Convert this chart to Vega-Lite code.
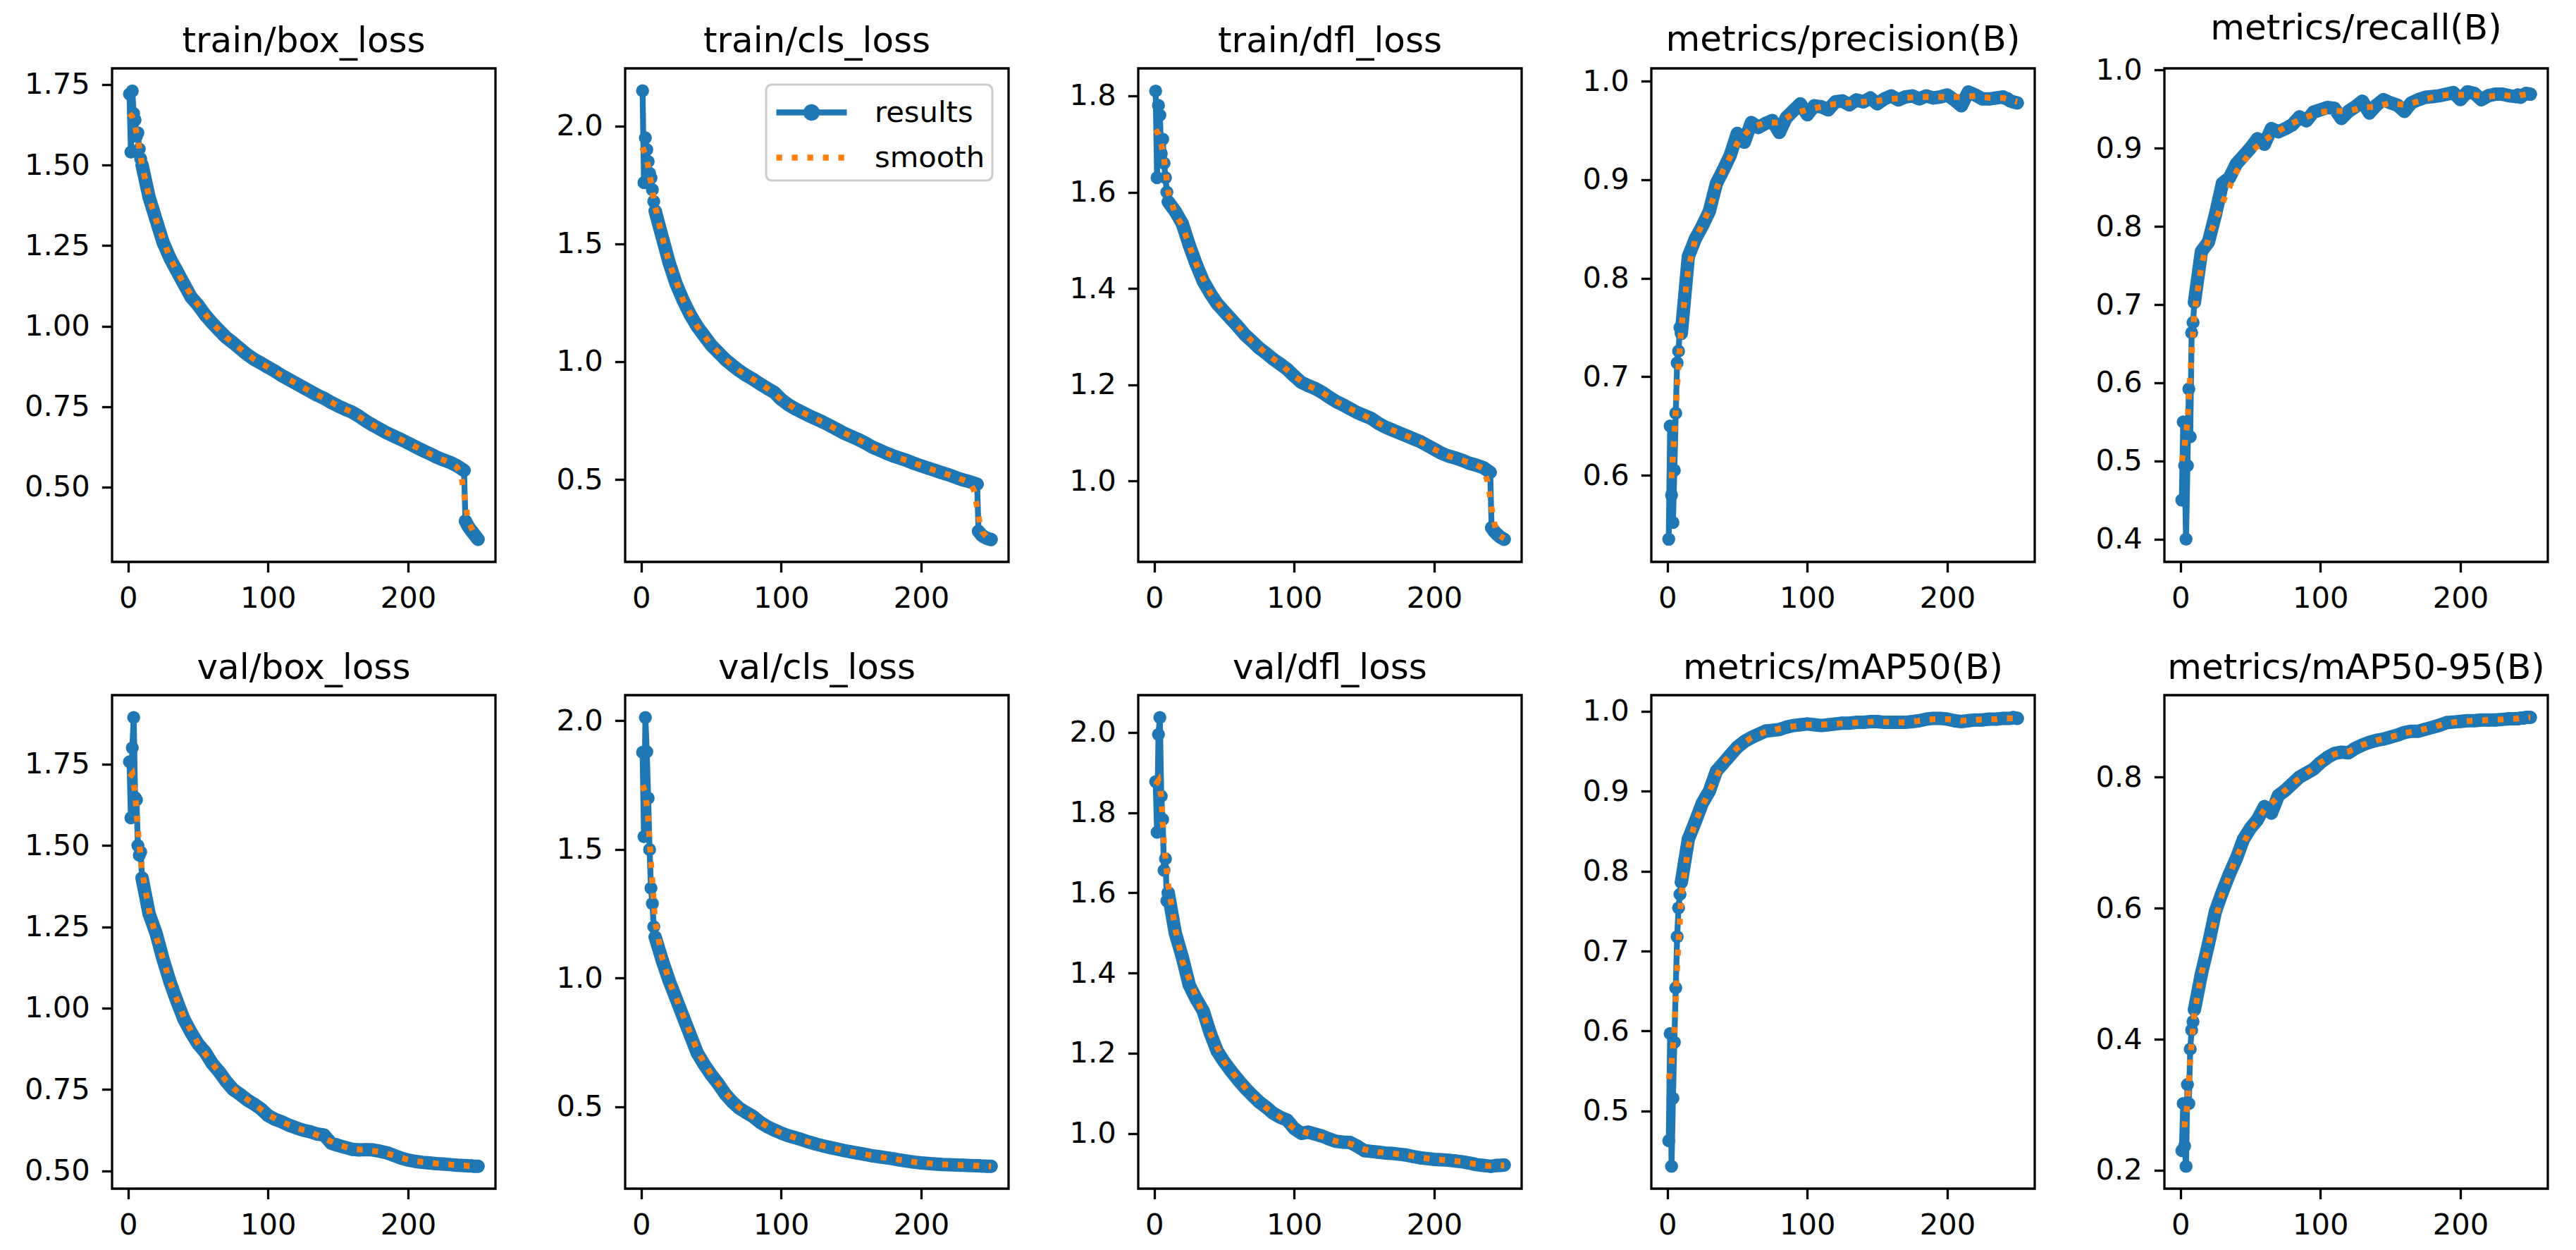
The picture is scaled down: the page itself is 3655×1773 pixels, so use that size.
{
"$schema":"https://vega.github.io/schema/vega-lite/v6.json",
"background":"white",
"padding":{"left":32,"top":14,"right":0,"bottom":0},
"columns":5,
"bounds":"flush",
"spacing":{"row":189,"column":184},
"resolve":{"scale":{"color":"independent"},"legend":{"color":"independent"}},
"config":{
 "view":{"stroke":"black","strokeWidth":3.3},
 "axis":{"domain":false,"grid":false,"ticks":true,"tickSize":14.6,"tickWidth":3.3,"tickColor":"black","labelFont":"DejaVu Sans","labelFontSize":41.7,"labelColor":"black","labelPadding":17,"labelFlush":false,"labelOverlap":false,"labelBound":false},
 "title":{"font":"DejaVu Sans","fontSize":50,"fontWeight":"normal","color":"black","anchor":"middle","frame":"group","offset":13,"baseline":"alphabetic"},
 "legend":{"labelFont":"DejaVu Sans","labelFontSize":41.7,"labelColor":"black"}
},
"datasets":{
"results":[
{"e":1,"tb":1.72,"tc":2.15,"td":1.81,"pr":0.535,"re":0.45,"vb":1.757,"vc":1.878,"vd":1.877,"m50":0.463,"m95":0.23},
{"e":2,"tb":1.54,"tc":1.76,"td":1.63,"pr":0.65,"re":0.55,"vb":1.585,"vc":1.55,"vd":1.751,"m50":0.597,"m95":0.302},
{"e":3,"tb":1.73,"tc":1.95,"td":1.78,"pr":0.58,"re":0.494,"vb":1.8,"vc":2.013,"vd":1.995,"m50":0.431,"m95":0.237},
{"e":4,"tb":1.66,"tc":1.9,"td":1.76,"pr":0.552,"re":0.4,"vb":1.893,"vc":1.88,"vd":2.037,"m50":0.516,"m95":0.206},
{"e":5,"tb":1.64,"tc":1.85,"td":1.68,"pr":0.605,"re":0.494,"vb":1.647,"vc":1.7,"vd":1.841,"m50":0.586,"m95":0.331},
{"e":6,"tb":1.59,"tc":1.8,"td":1.71,"pr":0.663,"re":0.592,"vb":1.64,"vc":1.5,"vd":1.783,"m50":0.654,"m95":0.302},
{"e":7,"tb":1.6,"tc":1.78,"td":1.66,"pr":0.714,"re":0.531,"vb":1.5,"vc":1.35,"vd":1.656,"m50":0.718,"m95":0.385},
{"e":8,"tb":1.55,"tc":1.73,"td":1.63,"pr":0.726,"re":0.664,"vb":1.47,"vc":1.29,"vd":1.685,"m50":0.754,"m95":0.414},
{"e":9,"tb":1.52,"tc":1.68,"td":1.6,"pr":0.75,"re":0.677,"vb":1.48,"vc":1.2,"vd":1.58,"m50":0.771,"m95":0.427},
{"e":10,"tb":1.5,"tc":1.64,"td":1.58,"pr":0.744,"re":0.703,"vb":1.4,"vc":1.16,"vd":1.6,"m50":0.786,"m95":0.445},
{"e":15,"tb":1.4,"tc":1.53,"td":1.56,"pr":0.822,"re":0.768,"vb":1.29,"vc":1.07,"vd":1.5,"m50":0.84,"m95":0.5},
{"e":20,"tb":1.33,"tc":1.42,"td":1.535,"pr":0.84,"re":0.78,"vb":1.23,"vc":0.99,"vd":1.44,"m50":0.862,"m95":0.545},
{"e":25,"tb":1.26,"tc":1.33,"td":1.49,"pr":0.853,"re":0.815,"vb":1.15,"vc":0.92,"vd":1.37,"m50":0.885,"m95":0.595},
{"e":30,"tb":1.21,"tc":1.26,"td":1.45,"pr":0.868,"re":0.855,"vb":1.08,"vc":0.85,"vd":1.335,"m50":0.9,"m95":0.625},
{"e":35,"tb":1.17,"tc":1.2,"td":1.415,"pr":0.896,"re":0.862,"vb":1.02,"vc":0.78,"vd":1.305,"m50":0.925,"m95":0.652},
{"e":40,"tb":1.13,"tc":1.15,"td":1.39,"pr":0.91,"re":0.88,"vb":0.965,"vc":0.71,"vd":1.25,"m50":0.935,"m95":0.676},
{"e":45,"tb":1.09,"tc":1.11,"td":1.368,"pr":0.925,"re":0.89,"vb":0.925,"vc":0.665,"vd":1.205,"m50":0.945,"m95":0.705},
{"e":50,"tb":1.065,"tc":1.07,"td":1.352,"pr":0.947,"re":0.9,"vb":0.89,"vc":0.625,"vd":1.178,"m50":0.955,"m95":0.722},
{"e":55,"tb":1.035,"tc":1.04,"td":1.336,"pr":0.938,"re":0.912,"vb":0.865,"vc":0.59,"vd":1.155,"m50":0.962,"m95":0.735},
{"e":60,"tb":1.01,"tc":1.01,"td":1.32,"pr":0.958,"re":0.905,"vb":0.83,"vc":0.55,"vd":1.133,"m50":0.967,"m95":0.755},
{"e":65,"tb":0.987,"tc":0.985,"td":1.303,"pr":0.953,"re":0.925,"vb":0.805,"vc":0.52,"vd":1.113,"m50":0.971,"m95":0.745},
{"e":70,"tb":0.965,"tc":0.962,"td":1.29,"pr":0.957,"re":0.921,"vb":0.775,"vc":0.495,"vd":1.095,"m50":0.975,"m95":0.772},
{"e":75,"tb":0.948,"tc":0.942,"td":1.276,"pr":0.96,"re":0.925,"vb":0.75,"vc":0.478,"vd":1.078,"m50":0.976,"m95":0.78},
{"e":80,"tb":0.93,"tc":0.925,"td":1.265,"pr":0.948,"re":0.93,"vb":0.735,"vc":0.462,"vd":1.065,"m50":0.977,"m95":0.79},
{"e":85,"tb":0.912,"tc":0.905,"td":1.253,"pr":0.963,"re":0.94,"vb":0.718,"vc":0.44,"vd":1.05,"m50":0.98,"m95":0.8},
{"e":90,"tb":0.897,"tc":0.887,"td":1.243,"pr":0.97,"re":0.935,"vb":0.705,"vc":0.423,"vd":1.04,"m50":0.982,"m95":0.806},
{"e":95,"tb":0.885,"tc":0.87,"td":1.232,"pr":0.977,"re":0.946,"vb":0.69,"vc":0.41,"vd":1.033,"m50":0.983,"m95":0.812},
{"e":100,"tb":0.872,"tc":0.84,"td":1.218,"pr":0.966,"re":0.949,"vb":0.67,"vc":0.398,"vd":1.012,"m50":0.984,"m95":0.822},
{"e":105,"tb":0.86,"tc":0.818,"td":1.205,"pr":0.975,"re":0.952,"vb":0.658,"vc":0.388,"vd":1.0,"m50":0.983,"m95":0.83},
{"e":110,"tb":0.846,"tc":0.8,"td":1.198,"pr":0.974,"re":0.951,"vb":0.65,"vc":0.38,"vd":1.003,"m50":0.982,"m95":0.836},
{"e":115,"tb":0.834,"tc":0.785,"td":1.192,"pr":0.971,"re":0.938,"vb":0.64,"vc":0.372,"vd":0.998,"m50":0.983,"m95":0.838},
{"e":120,"tb":0.822,"tc":0.77,"td":1.184,"pr":0.979,"re":0.947,"vb":0.632,"vc":0.363,"vd":0.993,"m50":0.984,"m95":0.837},
{"e":125,"tb":0.81,"tc":0.757,"td":1.174,"pr":0.98,"re":0.953,"vb":0.625,"vc":0.355,"vd":0.986,"m50":0.985,"m95":0.844},
{"e":130,"tb":0.798,"tc":0.743,"td":1.165,"pr":0.976,"re":0.96,"vb":0.62,"vc":0.348,"vd":0.98,"m50":0.985,"m95":0.849},
{"e":135,"tb":0.786,"tc":0.728,"td":1.158,"pr":0.981,"re":0.945,"vb":0.613,"vc":0.342,"vd":0.978,"m50":0.986,"m95":0.853},
{"e":140,"tb":0.776,"tc":0.712,"td":1.15,"pr":0.979,"re":0.955,"vb":0.61,"vc":0.336,"vd":0.977,"m50":0.986,"m95":0.856},
{"e":145,"tb":0.763,"tc":0.696,"td":1.142,"pr":0.983,"re":0.962,"vb":0.585,"vc":0.33,"vd":0.968,"m50":0.987,"m95":0.858},
{"e":150,"tb":0.752,"tc":0.683,"td":1.136,"pr":0.977,"re":0.958,"vb":0.578,"vc":0.325,"vd":0.957,"m50":0.987,"m95":0.861},
{"e":155,"tb":0.742,"tc":0.67,"td":1.13,"pr":0.982,"re":0.955,"vb":0.572,"vc":0.32,"vd":0.955,"m50":0.986,"m95":0.864},
{"e":160,"tb":0.733,"tc":0.655,"td":1.12,"pr":0.985,"re":0.947,"vb":0.566,"vc":0.315,"vd":0.953,"m50":0.986,"m95":0.868},
{"e":165,"tb":0.72,"tc":0.638,"td":1.112,"pr":0.981,"re":0.958,"vb":0.564,"vc":0.31,"vd":0.951,"m50":0.986,"m95":0.87},
{"e":170,"tb":0.705,"tc":0.625,"td":1.106,"pr":0.984,"re":0.962,"vb":0.565,"vc":0.306,"vd":0.95,"m50":0.986,"m95":0.87},
{"e":175,"tb":0.692,"tc":0.612,"td":1.1,"pr":0.985,"re":0.965,"vb":0.564,"vc":0.302,"vd":0.948,"m50":0.987,"m95":0.873},
{"e":180,"tb":0.68,"tc":0.6,"td":1.094,"pr":0.982,"re":0.966,"vb":0.56,"vc":0.298,"vd":0.946,"m50":0.988,"m95":0.876},
{"e":185,"tb":0.668,"tc":0.59,"td":1.088,"pr":0.985,"re":0.967,"vb":0.555,"vc":0.293,"vd":0.942,"m50":0.99,"m95":0.879},
{"e":190,"tb":0.658,"tc":0.58,"td":1.082,"pr":0.983,"re":0.969,"vb":0.547,"vc":0.289,"vd":0.939,"m50":0.991,"m95":0.883},
{"e":195,"tb":0.648,"tc":0.568,"td":1.074,"pr":0.984,"re":0.971,"vb":0.539,"vc":0.285,"vd":0.937,"m50":0.991,"m95":0.884},
{"e":200,"tb":0.637,"tc":0.558,"td":1.066,"pr":0.986,"re":0.962,"vb":0.533,"vc":0.282,"vd":0.935,"m50":0.99,"m95":0.885},
{"e":205,"tb":0.626,"tc":0.548,"td":1.058,"pr":0.981,"re":0.972,"vb":0.529,"vc":0.28,"vd":0.934,"m50":0.988,"m95":0.886},
{"e":210,"tb":0.615,"tc":0.538,"td":1.052,"pr":0.975,"re":0.97,"vb":0.526,"vc":0.278,"vd":0.933,"m50":0.987,"m95":0.886},
{"e":215,"tb":0.605,"tc":0.528,"td":1.048,"pr":0.989,"re":0.962,"vb":0.524,"vc":0.276,"vd":0.931,"m50":0.988,"m95":0.887},
{"e":220,"tb":0.594,"tc":0.519,"td":1.043,"pr":0.986,"re":0.967,"vb":0.522,"vc":0.275,"vd":0.929,"m50":0.989,"m95":0.887},
{"e":225,"tb":0.585,"tc":0.508,"td":1.037,"pr":0.982,"re":0.969,"vb":0.521,"vc":0.274,"vd":0.926,"m50":0.989,"m95":0.887},
{"e":230,"tb":0.577,"tc":0.498,"td":1.033,"pr":0.982,"re":0.969,"vb":0.519,"vc":0.273,"vd":0.922,"m50":0.99,"m95":0.888},
{"e":235,"tb":0.566,"tc":0.49,"td":1.028,"pr":0.983,"re":0.967,"vb":0.517,"vc":0.272,"vd":0.92,"m50":0.99,"m95":0.889},
{"e":240,"tb":0.552,"tc":0.48,"td":1.018,"pr":0.984,"re":0.966,"vb":0.516,"vc":0.271,"vd":0.918,"m50":0.991,"m95":0.889},
{"e":241,"tb":0.395,"tc":0.28,"td":0.903,"pr":0.983,"re":0.968,"vb":0.516,"vc":0.271,"vd":0.918,"m50":0.991,"m95":0.889},
{"e":243,"tb":0.378,"tc":0.265,"td":0.895,"pr":0.982,"re":0.965,"vb":0.515,"vc":0.27,"vd":0.919,"m50":0.991,"m95":0.89},
{"e":245,"tb":0.366,"tc":0.256,"td":0.889,"pr":0.98,"re":0.968,"vb":0.515,"vc":0.27,"vd":0.92,"m50":0.991,"m95":0.89},
{"e":247,"tb":0.355,"tc":0.25,"td":0.884,"pr":0.979,"re":0.97,"vb":0.514,"vc":0.269,"vd":0.92,"m50":0.992,"m95":0.891},
{"e":250,"tb":0.338,"tc":0.245,"td":0.879,"pr":0.978,"re":0.969,"vb":0.514,"vc":0.269,"vd":0.921,"m50":0.991,"m95":0.891}
],
"smooth":[
{"e":1,"tb":1.66,"tc":1.91,"td":1.73,"pr":0.6,"re":0.5,"vb":1.71,"vc":1.75,"vd":1.87,"m50":0.54,"m95":0.27},
{"e":3,"tb":1.65,"tc":1.88,"td":1.72,"pr":0.6,"re":0.52,"vb":1.72,"vc":1.72,"vd":1.88,"m50":0.56,"m95":0.27},
{"e":5,"tb":1.62,"tc":1.83,"td":1.7,"pr":0.64,"re":0.55,"vb":1.66,"vc":1.62,"vd":1.84,"m50":0.6,"m95":0.3},
{"e":7,"tb":1.58,"tc":1.76,"td":1.67,"pr":0.69,"re":0.61,"vb":1.55,"vc":1.45,"vd":1.72,"m50":0.68,"m95":0.37},
{"e":10,"tb":1.5,"tc":1.66,"td":1.6,"pr":0.75,"re":0.69,"vb":1.42,"vc":1.22,"vd":1.62,"m50":0.77,"m95":0.44},
{"e":15,"tb":1.4,"tc":1.53,"td":1.555,"pr":0.81,"re":0.75,"vb":1.3,"vc":1.08,"vd":1.51,"m50":0.83,"m95":0.5},
{"e":20,"tb":1.33,"tc":1.42,"td":1.53,"pr":0.84,"re":0.785,"vb":1.22,"vc":0.99,"vd":1.43,"m50":0.862,"m95":0.545},
{"e":30,"tb":1.21,"tc":1.26,"td":1.45,"pr":0.87,"re":0.83,"vb":1.08,"vc":0.855,"vd":1.34,"m50":0.9,"m95":0.622},
{"e":40,"tb":1.13,"tc":1.15,"td":1.39,"pr":0.91,"re":0.87,"vb":0.97,"vc":0.72,"vd":1.25,"m50":0.936,"m95":0.678},
{"e":50,"tb":1.065,"tc":1.07,"td":1.352,"pr":0.937,"re":0.895,"vb":0.89,"vc":0.625,"vd":1.178,"m50":0.954,"m95":0.72},
{"e":60,"tb":1.01,"tc":1.01,"td":1.32,"pr":0.953,"re":0.91,"vb":0.83,"vc":0.555,"vd":1.133,"m50":0.967,"m95":0.75},
{"e":70,"tb":0.965,"tc":0.962,"td":1.29,"pr":0.958,"re":0.922,"vb":0.777,"vc":0.497,"vd":1.095,"m50":0.974,"m95":0.77},
{"e":80,"tb":0.93,"tc":0.925,"td":1.265,"pr":0.958,"re":0.932,"vb":0.735,"vc":0.46,"vd":1.063,"m50":0.978,"m95":0.79},
{"e":90,"tb":0.897,"tc":0.887,"td":1.243,"pr":0.967,"re":0.94,"vb":0.705,"vc":0.424,"vd":1.04,"m50":0.981,"m95":0.806},
{"e":100,"tb":0.872,"tc":0.84,"td":1.218,"pr":0.971,"re":0.946,"vb":0.672,"vc":0.398,"vd":1.012,"m50":0.983,"m95":0.822},
{"e":110,"tb":0.846,"tc":0.8,"td":1.198,"pr":0.974,"re":0.948,"vb":0.65,"vc":0.38,"vd":1.0,"m50":0.983,"m95":0.835},
{"e":120,"tb":0.822,"tc":0.77,"td":1.184,"pr":0.977,"re":0.947,"vb":0.632,"vc":0.363,"vd":0.992,"m50":0.984,"m95":0.839},
{"e":130,"tb":0.798,"tc":0.743,"td":1.165,"pr":0.978,"re":0.952,"vb":0.619,"vc":0.348,"vd":0.98,"m50":0.985,"m95":0.849},
{"e":140,"tb":0.776,"tc":0.712,"td":1.15,"pr":0.979,"re":0.953,"vb":0.6,"vc":0.336,"vd":0.974,"m50":0.986,"m95":0.856},
{"e":150,"tb":0.752,"tc":0.683,"td":1.136,"pr":0.98,"re":0.958,"vb":0.58,"vc":0.325,"vd":0.96,"m50":0.987,"m95":0.861},
{"e":160,"tb":0.733,"tc":0.655,"td":1.12,"pr":0.982,"re":0.955,"vb":0.567,"vc":0.315,"vd":0.953,"m50":0.986,"m95":0.867},
{"e":170,"tb":0.705,"tc":0.625,"td":1.106,"pr":0.983,"re":0.96,"vb":0.564,"vc":0.306,"vd":0.95,"m50":0.986,"m95":0.871},
{"e":180,"tb":0.68,"tc":0.6,"td":1.094,"pr":0.984,"re":0.965,"vb":0.558,"vc":0.298,"vd":0.946,"m50":0.988,"m95":0.876},
{"e":190,"tb":0.658,"tc":0.58,"td":1.082,"pr":0.984,"re":0.968,"vb":0.547,"vc":0.289,"vd":0.94,"m50":0.99,"m95":0.882},
{"e":200,"tb":0.637,"tc":0.558,"td":1.066,"pr":0.984,"re":0.968,"vb":0.534,"vc":0.282,"vd":0.935,"m50":0.99,"m95":0.885},
{"e":210,"tb":0.615,"tc":0.538,"td":1.052,"pr":0.984,"re":0.968,"vb":0.527,"vc":0.278,"vd":0.933,"m50":0.988,"m95":0.886},
{"e":220,"tb":0.594,"tc":0.519,"td":1.043,"pr":0.985,"re":0.966,"vb":0.522,"vc":0.275,"vd":0.929,"m50":0.989,"m95":0.887},
{"e":230,"tb":0.576,"tc":0.498,"td":1.033,"pr":0.983,"re":0.968,"vb":0.519,"vc":0.273,"vd":0.923,"m50":0.99,"m95":0.888},
{"e":235,"tb":0.562,"tc":0.485,"td":1.026,"pr":0.983,"re":0.967,"vb":0.517,"vc":0.272,"vd":0.92,"m50":0.99,"m95":0.889},
{"e":238,"tb":0.535,"tc":0.45,"td":1.0,"pr":0.983,"re":0.967,"vb":0.516,"vc":0.271,"vd":0.919,"m50":0.991,"m95":0.889},
{"e":240,"tb":0.48,"tc":0.38,"td":0.965,"pr":0.983,"re":0.967,"vb":0.516,"vc":0.271,"vd":0.919,"m50":0.991,"m95":0.889},
{"e":242,"tb":0.42,"tc":0.31,"td":0.925,"pr":0.982,"re":0.967,"vb":0.515,"vc":0.27,"vd":0.919,"m50":0.991,"m95":0.89},
{"e":244,"tb":0.385,"tc":0.275,"td":0.9,"pr":0.981,"re":0.968,"vb":0.515,"vc":0.27,"vd":0.92,"m50":0.991,"m95":0.89},
{"e":247,"tb":0.358,"tc":0.255,"td":0.886,"pr":0.98,"re":0.969,"vb":0.514,"vc":0.269,"vd":0.92,"m50":0.991,"m95":0.891},
{"e":250,"tb":0.345,"tc":0.248,"td":0.881,"pr":0.979,"re":0.969,"vb":0.514,"vc":0.269,"vd":0.92,"m50":0.991,"m95":0.891}
]
},
"concat":[
{"title":"train/box_loss","width":544,"height":700,
 "encoding":{"x":{"field":"e","type":"quantitative","scale":{"domain":[-11.45,262.45],"nice":false,"zero":false},"axis":{"title":null,"values":[0,100,200],"format":"d"}},
  "y":{"field":"tb","type":"quantitative","scale":{"domain":[0.268,1.8],"nice":false,"zero":false},"axis":{"title":null,"values":[0.5,0.75,1,1.25,1.5,1.75],"format":".2f"}}},
 "layer":[
  {"data":{"name":"results"},"transform":[{"filter":"datum.e >= 10 && datum.e <= 240"}],"mark":{"type":"line","color":"#1f77b4","strokeWidth":19,"strokeJoin":"round","strokeCap":"round"},"encoding":{}},
  {"data":{"name":"results"},"transform":[{"filter":"datum.e >= 241"}],"mark":{"type":"line","color":"#1f77b4","strokeWidth":19,"strokeJoin":"round","strokeCap":"round"},"encoding":{}},
  {"data":{"name":"results"},"mark":{"type":"line","color":"#1f77b4","strokeWidth":8.3,"strokeJoin":"round","strokeCap":"round","point":{"filled":true,"size":340,"color":"#1f77b4"}},"encoding":{}},
  {"data":{"name":"smooth"},"mark":{"type":"line","color":"#ff7f0e","strokeWidth":8.3,"strokeDash":[8.3,13.7],"strokeCap":"butt"},"encoding":{}}]},
{"title":"train/cls_loss","width":544,"height":700,
 "encoding":{"x":{"field":"e","type":"quantitative","scale":{"domain":[-11.45,262.45],"nice":false,"zero":false},"axis":{"title":null,"values":[0,100,200],"format":"d"}},
  "y":{"field":"tc","type":"quantitative","scale":{"domain":[0.15,2.245],"nice":false,"zero":false},"axis":{"title":null,"values":[0.5,1,1.5,2],"format":".1f"}}},
 "layer":[
  {"data":{"name":"results"},"transform":[{"filter":"datum.e >= 10 && datum.e <= 240"}],"mark":{"type":"line","color":"#1f77b4","strokeWidth":19,"strokeJoin":"round","strokeCap":"round"},"encoding":{}},
  {"data":{"name":"results"},"transform":[{"filter":"datum.e >= 241"}],"mark":{"type":"line","color":"#1f77b4","strokeWidth":19,"strokeJoin":"round","strokeCap":"round"},"encoding":{}},
  {"data":{"name":"results"},"mark":{"type":"line","strokeWidth":8.3,"strokeJoin":"round","strokeCap":"round","point":{"filled":true,"size":340}},
   "encoding":{"color":{"datum":"results","type":"nominal","scale":{"domain":["results","smooth"],"range":["#1f77b4","#ff7f0e"]},
    "legend":{"title":null,"orient":"top-right","offset":23,"padding":10,"symbolSize":2500,"symbolStrokeWidth":8.3,"symbolOffset":25,"labelOffset":60,"rowPadding":10,"labelFontSize":41.7,"labelFont":"DejaVu Sans","strokeColor":"#cccccc","fillColor":"rgba(255,255,255,0.8)","cornerRadius":8,
     "labelExpr":"datum.label + '\u00a0\u00a0'",
     "encode":{"legend":{"update":{"strokeWidth":{"value":3}}},
      "symbols":{"update":{"shape":{"signal":"datum.value === 'results' ? 'M-2,0L2,0M0.3,0A0.3,0.3,0,1,1,-0.3,0A0.3,0.3,0,1,1,0.3,0Z' : 'M-2,0L2,0'"},
       "fill":{"signal":"datum.value === 'results' ? '#1f77b4' : 'transparent'"},
       "strokeDash":{"signal":"datum.value === 'results' ? [1,0] : [8.3,13.7]"},
       "strokeWidth":{"value":8.3},"opacity":{"value":1}}}}}}}},
  {"data":{"name":"smooth"},"mark":{"type":"line","strokeWidth":8.3,"strokeDash":[8.3,13.7],"strokeCap":"butt"},
   "encoding":{"color":{"datum":"smooth","type":"nominal"}}}]},
{"title":"train/dfl_loss","width":544,"height":700,
 "encoding":{"x":{"field":"e","type":"quantitative","scale":{"domain":[-11.45,262.45],"nice":false,"zero":false},"axis":{"title":null,"values":[0,100,200],"format":"d"}},
  "y":{"field":"td","type":"quantitative","scale":{"domain":[0.832,1.857],"nice":false,"zero":false},"axis":{"title":null,"values":[1,1.2,1.4,1.6,1.8],"format":".1f"}}},
 "layer":[
  {"data":{"name":"results"},"transform":[{"filter":"datum.e >= 10 && datum.e <= 240"}],"mark":{"type":"line","color":"#1f77b4","strokeWidth":19,"strokeJoin":"round","strokeCap":"round"},"encoding":{}},
  {"data":{"name":"results"},"transform":[{"filter":"datum.e >= 241"}],"mark":{"type":"line","color":"#1f77b4","strokeWidth":19,"strokeJoin":"round","strokeCap":"round"},"encoding":{}},
  {"data":{"name":"results"},"mark":{"type":"line","color":"#1f77b4","strokeWidth":8.3,"strokeJoin":"round","strokeCap":"round","point":{"filled":true,"size":340,"color":"#1f77b4"}},"encoding":{}},
  {"data":{"name":"smooth"},"mark":{"type":"line","color":"#ff7f0e","strokeWidth":8.3,"strokeDash":[8.3,13.7],"strokeCap":"butt"},"encoding":{}}]},
{"title":"metrics/precision(B)","width":544,"height":700,
 "encoding":{"x":{"field":"e","type":"quantitative","scale":{"domain":[-11.45,262.45],"nice":false,"zero":false},"axis":{"title":null,"values":[0,100,200],"format":"d"}},
  "y":{"field":"pr","type":"quantitative","scale":{"domain":[0.512,1.013],"nice":false,"zero":false},"axis":{"title":null,"values":[0.6,0.7,0.8,0.9,1.0],"format":".1f"}}},
 "layer":[
  {"data":{"name":"results"},"transform":[{"filter":"datum.e >= 10"}],"mark":{"type":"line","color":"#1f77b4","strokeWidth":19,"strokeJoin":"round","strokeCap":"round"},"encoding":{}},
  {"data":{"name":"results"},"mark":{"type":"line","color":"#1f77b4","strokeWidth":8.3,"strokeJoin":"round","strokeCap":"round","point":{"filled":true,"size":340,"color":"#1f77b4"}},"encoding":{}},
  {"data":{"name":"smooth"},"mark":{"type":"line","color":"#ff7f0e","strokeWidth":8.3,"strokeDash":[8.3,13.7],"strokeCap":"butt"},"encoding":{}}]},
{"title":"metrics/recall(B)","width":544,"height":700,
 "encoding":{"x":{"field":"e","type":"quantitative","scale":{"domain":[-11.45,262.45],"nice":false,"zero":false},"axis":{"title":null,"values":[0,100,200],"format":"d"}},
  "y":{"field":"re","type":"quantitative","scale":{"domain":[0.371,1.002],"nice":false,"zero":false},"axis":{"title":null,"values":[0.4,0.5,0.6,0.7,0.8,0.9,1.0],"format":".1f"}}},
 "layer":[
  {"data":{"name":"results"},"transform":[{"filter":"datum.e >= 10"}],"mark":{"type":"line","color":"#1f77b4","strokeWidth":19,"strokeJoin":"round","strokeCap":"round"},"encoding":{}},
  {"data":{"name":"results"},"mark":{"type":"line","color":"#1f77b4","strokeWidth":8.3,"strokeJoin":"round","strokeCap":"round","point":{"filled":true,"size":340,"color":"#1f77b4"}},"encoding":{}},
  {"data":{"name":"smooth"},"mark":{"type":"line","color":"#ff7f0e","strokeWidth":8.3,"strokeDash":[8.3,13.7],"strokeCap":"butt"},"encoding":{}}]},
{"title":"val/box_loss","width":544,"height":700,
 "encoding":{"x":{"field":"e","type":"quantitative","scale":{"domain":[-11.45,262.45],"nice":false,"zero":false},"axis":{"title":null,"values":[0,100,200],"format":"d"}},
  "y":{"field":"vb","type":"quantitative","scale":{"domain":[0.445,1.962],"nice":false,"zero":false},"axis":{"title":null,"values":[0.5,0.75,1,1.25,1.5,1.75],"format":".2f"}}},
 "layer":[
  {"data":{"name":"results"},"transform":[{"filter":"datum.e >= 10"}],"mark":{"type":"line","color":"#1f77b4","strokeWidth":19,"strokeJoin":"round","strokeCap":"round"},"encoding":{}},
  {"data":{"name":"results"},"mark":{"type":"line","color":"#1f77b4","strokeWidth":8.3,"strokeJoin":"round","strokeCap":"round","point":{"filled":true,"size":340,"color":"#1f77b4"}},"encoding":{}},
  {"data":{"name":"smooth"},"mark":{"type":"line","color":"#ff7f0e","strokeWidth":8.3,"strokeDash":[8.3,13.7],"strokeCap":"butt"},"encoding":{}}]},
{"title":"val/cls_loss","width":544,"height":700,
 "encoding":{"x":{"field":"e","type":"quantitative","scale":{"domain":[-11.45,262.45],"nice":false,"zero":false},"axis":{"title":null,"values":[0,100,200],"format":"d"}},
  "y":{"field":"vc","type":"quantitative","scale":{"domain":[0.182,2.1],"nice":false,"zero":false},"axis":{"title":null,"values":[0.5,1,1.5,2],"format":".1f"}}},
 "layer":[
  {"data":{"name":"results"},"transform":[{"filter":"datum.e >= 10"}],"mark":{"type":"line","color":"#1f77b4","strokeWidth":19,"strokeJoin":"round","strokeCap":"round"},"encoding":{}},
  {"data":{"name":"results"},"mark":{"type":"line","color":"#1f77b4","strokeWidth":8.3,"strokeJoin":"round","strokeCap":"round","point":{"filled":true,"size":340,"color":"#1f77b4"}},"encoding":{}},
  {"data":{"name":"smooth"},"mark":{"type":"line","color":"#ff7f0e","strokeWidth":8.3,"strokeDash":[8.3,13.7],"strokeCap":"butt"},"encoding":{}}]},
{"title":"val/dfl_loss","width":544,"height":700,
 "encoding":{"x":{"field":"e","type":"quantitative","scale":{"domain":[-11.45,262.45],"nice":false,"zero":false},"axis":{"title":null,"values":[0,100,200],"format":"d"}},
  "y":{"field":"vd","type":"quantitative","scale":{"domain":[0.862,2.093],"nice":false,"zero":false},"axis":{"title":null,"values":[1,1.2,1.4,1.6,1.8,2.0],"format":".1f"}}},
 "layer":[
  {"data":{"name":"results"},"transform":[{"filter":"datum.e >= 10"}],"mark":{"type":"line","color":"#1f77b4","strokeWidth":19,"strokeJoin":"round","strokeCap":"round"},"encoding":{}},
  {"data":{"name":"results"},"mark":{"type":"line","color":"#1f77b4","strokeWidth":8.3,"strokeJoin":"round","strokeCap":"round","point":{"filled":true,"size":340,"color":"#1f77b4"}},"encoding":{}},
  {"data":{"name":"smooth"},"mark":{"type":"line","color":"#ff7f0e","strokeWidth":8.3,"strokeDash":[8.3,13.7],"strokeCap":"butt"},"encoding":{}}]},
{"title":"metrics/mAP50(B)","width":544,"height":700,
 "encoding":{"x":{"field":"e","type":"quantitative","scale":{"domain":[-11.45,262.45],"nice":false,"zero":false},"axis":{"title":null,"values":[0,100,200],"format":"d"}},
  "y":{"field":"m50","type":"quantitative","scale":{"domain":[0.403,1.02],"nice":false,"zero":false},"axis":{"title":null,"values":[0.5,0.6,0.7,0.8,0.9,1.0],"format":".1f"}}},
 "layer":[
  {"data":{"name":"results"},"transform":[{"filter":"datum.e >= 10"}],"mark":{"type":"line","color":"#1f77b4","strokeWidth":19,"strokeJoin":"round","strokeCap":"round"},"encoding":{}},
  {"data":{"name":"results"},"mark":{"type":"line","color":"#1f77b4","strokeWidth":8.3,"strokeJoin":"round","strokeCap":"round","point":{"filled":true,"size":340,"color":"#1f77b4"}},"encoding":{}},
  {"data":{"name":"smooth"},"mark":{"type":"line","color":"#ff7f0e","strokeWidth":8.3,"strokeDash":[8.3,13.7],"strokeCap":"butt"},"encoding":{}}]},
{"title":"metrics/mAP50-95(B)","width":544,"height":700,
 "encoding":{"x":{"field":"e","type":"quantitative","scale":{"domain":[-11.45,262.45],"nice":false,"zero":false},"axis":{"title":null,"values":[0,100,200],"format":"d"}},
  "y":{"field":"m95","type":"quantitative","scale":{"domain":[0.172,0.925],"nice":false,"zero":false},"axis":{"title":null,"values":[0.2,0.4,0.6,0.8],"format":".1f"}}},
 "layer":[
  {"data":{"name":"results"},"transform":[{"filter":"datum.e >= 10"}],"mark":{"type":"line","color":"#1f77b4","strokeWidth":19,"strokeJoin":"round","strokeCap":"round"},"encoding":{}},
  {"data":{"name":"results"},"mark":{"type":"line","color":"#1f77b4","strokeWidth":8.3,"strokeJoin":"round","strokeCap":"round","point":{"filled":true,"size":340,"color":"#1f77b4"}},"encoding":{}},
  {"data":{"name":"smooth"},"mark":{"type":"line","color":"#ff7f0e","strokeWidth":8.3,"strokeDash":[8.3,13.7],"strokeCap":"butt"},"encoding":{}}]}
]
}
